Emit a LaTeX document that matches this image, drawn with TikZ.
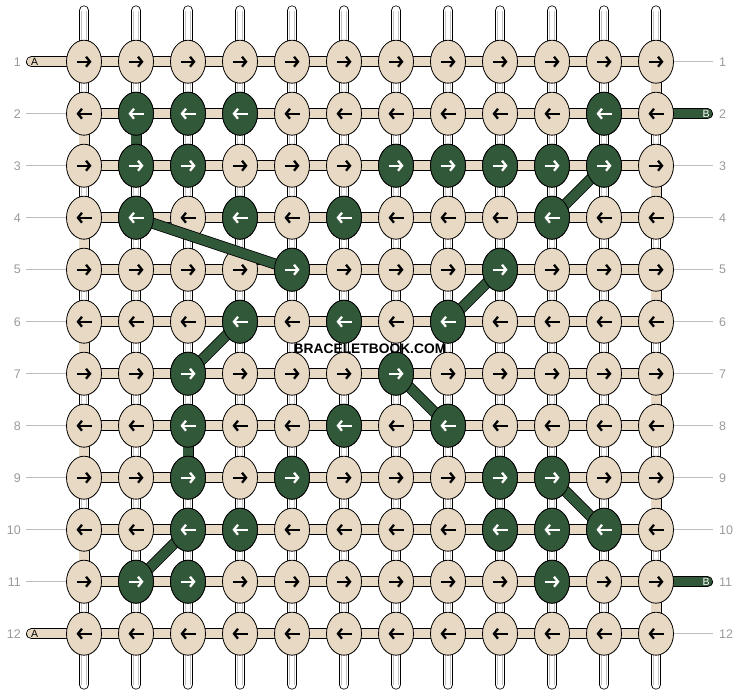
\documentclass[tikz,border=0pt]{standalone}
\usepackage{fontspec}
\usepackage{pdfrender}
\newfontfamily\numfont{Liberation Sans}
\usetikzlibrary{arrows.meta,shapes.geometric}

\definecolor{knotbeige}{HTML}{E8D9C4}
\definecolor{knotgreen}{HTML}{32583A}
\definecolor{warpgray}{HTML}{C4C4C4}
\definecolor{guidegray}{HTML}{BDBDBD}
\definecolor{numgray}{HTML}{9A9A9A}
\definecolor{wmgray}{HTML}{404040}
\definecolor{wmhalo}{HTML}{E6E6E6}

\tikzset{
  knot/.style={ellipse, draw=black, line width=0.8pt, fill=knotbeige,
    minimum width=35pt, minimum height=43pt, inner sep=0pt},
  gknot/.style={knot, fill=knotgreen},
  warp/.style={draw=black, line width=0.8pt, double=white, double distance=8.6pt, line cap=round},
  warpline/.style={draw=warpgray, line width=0.7pt},
  band/.style={draw=black, line width=0.8pt, double=knotbeige, double distance=9.4pt},
  gband/.style={band, double=knotgreen},
  rarr/.style={line width=2.3pt, -{Straight Barb[length=4pt,width=10pt]}},
  larr/.style={line width=2.3pt, {Straight Barb[length=4pt,width=10pt]}-},
  guide/.style={draw=guidegray, line width=0.8pt},
  rownum/.style={font=\numfont\fontsize{12.5}{13}\selectfont, text=numgray, inner ysep=0pt},
  endtag/.style={font=\numfont\fontsize{10.5}{10.5}\selectfont, inner sep=0pt},
  wmark/.style={font=\numfont\bfseries\fontsize{13.8}{14}\selectfont, inner sep=0pt},
}

\begin{document}
\begin{tikzpicture}[x=1pt, y=-1pt]
\useasboundingbox (0,0) rectangle (740,696);

% knot positions
\foreach \r in {1,...,12}
  \foreach \c in {1,...,12}
    \coordinate (p-\r-\c) at ({84+52*(\c-1)},{61.7+52*(\r-1)});

% warp strings
\foreach \c in {1,...,12} {
  \coordinate (t-\c) at ({84+52*(\c-1)},10.5);
  \coordinate (b-\c) at ({84+52*(\c-1)},684.5);
  \draw[warp] (t-\c) -- (b-\c);
  \draw[warpline] ([xshift=-2.5pt]t-\c) -- ([xshift=-2.5pt]b-\c);
  \draw[warpline] ([xshift=2.5pt]t-\c) -- ([xshift=2.5pt]b-\c);
}

% row threads and end tags
\coordinate (a-1) at (31.5,61.7);
\coordinate (a-12) at (31.5,633.7);
\coordinate (e-2) at (707.5,113.7);
\coordinate (e-11) at (707.5,581.7);
\draw[band, line cap=round] (a-1) -- (p-1-12);
\draw[band, line cap=round] (a-12) -- (p-12-12);
\foreach \r in {2,...,11}
  \draw[band] (p-\r-1) -- (p-\r-12);
\draw[gband, line cap=round] (p-2-12) -- (e-2);
\draw[gband, line cap=round] (p-11-12) -- (e-11);

% threads carried down at the edges
\foreach \r in {2,4,...,10} {
  \pgfmathtruncatemacro\s{\r+1}
  \draw[band] (p-\r-1) -- (p-\s-1);
}
\foreach \r in {1,3,...,11} {
  \pgfmathtruncatemacro\s{\r+1}
  \draw[band] (p-\r-12) -- (p-\s-12);
}
\draw[gband] (p-2-2) -- (p-3-2);
\draw[gband] (p-8-3) -- (p-9-3);

% background knots
\foreach \r in {1,...,12} {
  \ifodd\r \def\tip{rarr}\else \def\tip{larr}\fi
  \foreach \c in {1,...,12} {
    \node[knot] (k-\r-\c) at (p-\r-\c) {};
    \draw[\tip] ([xshift=-7.5pt]k-\r-\c.center) -- ([xshift=7.5pt]k-\r-\c.center);
  }
}

% green thread across the rows
\foreach \a/\b in {4-2/5-5, 3-11/4-10, 5-9/6-8, 6-4/7-3, 7-7/8-8, 9-10/10-11, 10-3/11-2}
  \draw[gband] (k-\a.center) -- (k-\b.center);

% green knots
\foreach \r/\c in {2/2,2/3,2/4,2/11, 3/2,3/3,3/7,3/8,3/9,3/10,3/11,
    4/2,4/4,4/6,4/10, 5/5,5/9, 6/4,6/6,6/8, 7/3,7/7, 8/3,8/6,8/8,
    9/3,9/5,9/9,9/10, 10/3,10/4,10/9,10/10,10/11, 11/2,11/3,11/10} {
  \ifodd\r \def\tip{rarr}\else \def\tip{larr}\fi
  \node[gknot] (g-\r-\c) at (p-\r-\c) {};
  \draw[\tip, white] ([xshift=-7.5pt]g-\r-\c.center) -- ([xshift=7.5pt]g-\r-\c.center);
}

% row numbers
\foreach \r in {1,...,12} {
  \node[rownum, anchor=east, inner xsep=5pt] (ln-\r) at (26,{61.7+52*(\r-1)}) {\r};
  \node[rownum, anchor=west, inner xsep=6pt] (rn-\r) at (713,{61.7+52*(\r-1)}) {\r};
}
\foreach \r in {2,...,11}
  \draw[guide] (ln-\r.east) -- (k-\r-1.west);
\foreach \r in {1,3,4,5,6,7,8,9,10,12}
  \draw[guide] (k-\r-12.east) -- (rn-\r.west);

\node[endtag] (ta-1) at (34.7,61.7) {A};
\node[endtag] (ta-12) at (34.7,633.7) {A};
\node[endtag, text=white] (tb-2) at (706,113.7) {B};
\node[endtag, text=white] (tb-11) at (706,581.7) {B};

\node[wmark] (wm) at (370,348.5)
  {\textpdfrender{TextRenderingMode=FillStroke, LineWidth=1.3, StrokeColor=wmhalo, FillColor=wmgray}{BRACELETBOOK.COM}};
\end{tikzpicture}
\end{document}
